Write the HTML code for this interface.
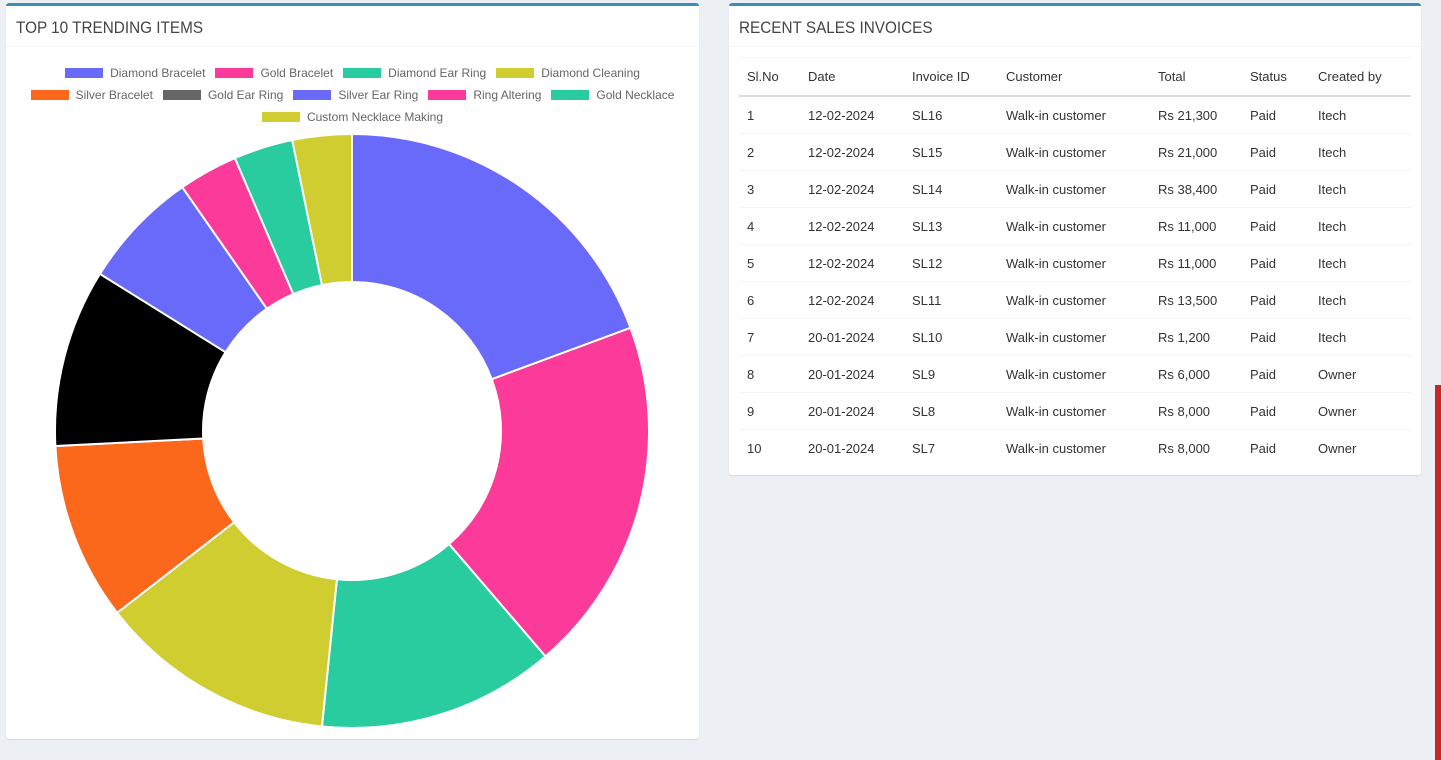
<!DOCTYPE html>
<html><head><meta charset="utf-8">
<style>
body{margin:0;width:1441px;height:760px;background:#ecf0f5;position:relative;overflow:hidden;font-family:"Liberation Sans",sans-serif}
.panel{position:absolute;background:#fff;border-top:3px solid #3c8dbc;border-radius:3px;box-shadow:0 1px 1px rgba(0,0,0,.1)}
.title{position:absolute;left:10px;top:12px;font-size:17px;color:#444;transform:scaleX(0.9);transform-origin:0 0}
.hr{position:absolute;left:0;right:0;top:40px;border-top:1px solid #f4f4f4}
.legrow{position:absolute;left:0;width:693px;display:flex;justify-content:center;font-size:12px;color:#666}
.li{display:flex;align-items:center;margin:0 5px}
.li span.b{width:38px;height:10px;margin-right:7px}
table{position:absolute;left:10px;top:51px;width:672px;border-collapse:collapse;font-size:13px;color:#333}
th{font-weight:normal;text-align:left;height:37px;border-top:1px solid #f4f4f4;border-bottom:2px solid #ddd;padding:0 0 0 8px}
td{height:36px;border-top:1px solid #f4f4f4;padding:0 0 0 8px}
</style></head><body>
<div class="panel" style="left:6px;top:3px;width:693px;height:733px">
 <div class="title">TOP 10 TRENDING ITEMS</div>
 <div class="hr"></div>
 <div id="legend"></div>
 <svg id="chart" width="693" height="733" style="position:absolute;left:0;top:-3px"></svg>
</div>
<div class="panel" style="left:729px;top:3px;width:692px;height:469px">
 <div class="title">RECENT SALES INVOICES</div>
 <div class="hr"></div>
 <table>
  <colgroup><col style="width:61px"><col style="width:104px"><col style="width:94px"><col style="width:152px"><col style="width:92px"><col style="width:68px"><col></colgroup>
  <thead><tr><th>Sl.No</th><th>Date</th><th>Invoice ID</th><th>Customer</th><th>Total</th><th>Status</th><th>Created by</th></tr></thead>
  <tbody>
  <tr><td>1</td><td>12-02-2024</td><td>SL16</td><td>Walk-in customer</td><td>Rs 21,300</td><td>Paid</td><td>Itech</td></tr>
  <tr><td>2</td><td>12-02-2024</td><td>SL15</td><td>Walk-in customer</td><td>Rs 21,000</td><td>Paid</td><td>Itech</td></tr>
  <tr><td>3</td><td>12-02-2024</td><td>SL14</td><td>Walk-in customer</td><td>Rs 38,400</td><td>Paid</td><td>Itech</td></tr>
  <tr><td>4</td><td>12-02-2024</td><td>SL13</td><td>Walk-in customer</td><td>Rs 11,000</td><td>Paid</td><td>Itech</td></tr>
  <tr><td>5</td><td>12-02-2024</td><td>SL12</td><td>Walk-in customer</td><td>Rs 11,000</td><td>Paid</td><td>Itech</td></tr>
  <tr><td>6</td><td>12-02-2024</td><td>SL11</td><td>Walk-in customer</td><td>Rs 13,500</td><td>Paid</td><td>Itech</td></tr>
  <tr><td>7</td><td>20-01-2024</td><td>SL10</td><td>Walk-in customer</td><td>Rs 1,200</td><td>Paid</td><td>Itech</td></tr>
  <tr><td>8</td><td>20-01-2024</td><td>SL9</td><td>Walk-in customer</td><td>Rs 6,000</td><td>Paid</td><td>Owner</td></tr>
  <tr><td>9</td><td>20-01-2024</td><td>SL8</td><td>Walk-in customer</td><td>Rs 8,000</td><td>Paid</td><td>Owner</td></tr>
  <tr><td>10</td><td>20-01-2024</td><td>SL7</td><td>Walk-in customer</td><td>Rs 8,000</td><td>Paid</td><td>Owner</td></tr>
  </tbody>
 </table>
</div>
<div style="position:absolute;left:1435px;top:385px;width:6px;height:375px;background:#c62828"></div>
<script>
const labels=["Diamond Bracelet","Gold Bracelet","Diamond Ear Ring","Diamond Cleaning","Silver Bracelet","Gold Ear Ring","Silver Ear Ring","Ring Altering","Gold Necklace","Custom Necklace Making"];
const values=[6,6,4,4,3,3,2,1,1,1];
const colors=["#6a6afa","#fc3a9a","#28cc9e","#cfcd2f","#fb671b","#000000","#6a6afa","#fc3a9a","#28cc9e","#cfcd2f"];
const legendColors=["#6a6afa","#fc3a9a","#28cc9e","#cfcd2f","#fb671b","#666666","#6a6afa","#fc3a9a","#28cc9e","#cfcd2f"];
const rows=[[0,4],[4,9],[9,10]];
const leg=document.getElementById('legend');
rows.forEach((r,ri)=>{
  const row=document.createElement('div');row.className='legrow';row.style.top=(60+ri*22)+'px';
  for(let i=r[0];i<r[1];i++){
    const it=document.createElement('div');it.className='li';
    
    
    it.innerHTML='<span class="b" style="background:'+legendColors[i]+'"></span><span>'+labels[i]+'</span>';
    row.appendChild(it);
  }
  leg.appendChild(row);
});
const svg=document.getElementById('chart');
const cx=346,cy=428,R=297,r=149;
const total=values.reduce((a,b)=>a+b,0);
let a0=0;
function pt(rad,a){return [cx+rad*Math.sin(a),cy-rad*Math.cos(a)];}
values.forEach((v,i)=>{
  const a1=a0+v/total*2*Math.PI;
  const [x1,y1]=pt(R,a0),[x2,y2]=pt(R,a1),[x3,y3]=pt(r,a1),[x4,y4]=pt(r,a0);
  const lg=(a1-a0)>Math.PI?1:0;
  const p=document.createElementNS('http://www.w3.org/2000/svg','path');
  p.setAttribute('d',`M${x1},${y1}A${R},${R} 0 ${lg} 1 ${x2},${y2}L${x3},${y3}A${r},${r} 0 ${lg} 0 ${x4},${y4}Z`);
  p.setAttribute('fill',colors[i]);p.setAttribute('stroke','#fff');p.setAttribute('stroke-width','2');
  
  
  svg.appendChild(p);
  a0=a1;
});
</script>
</body></html>
